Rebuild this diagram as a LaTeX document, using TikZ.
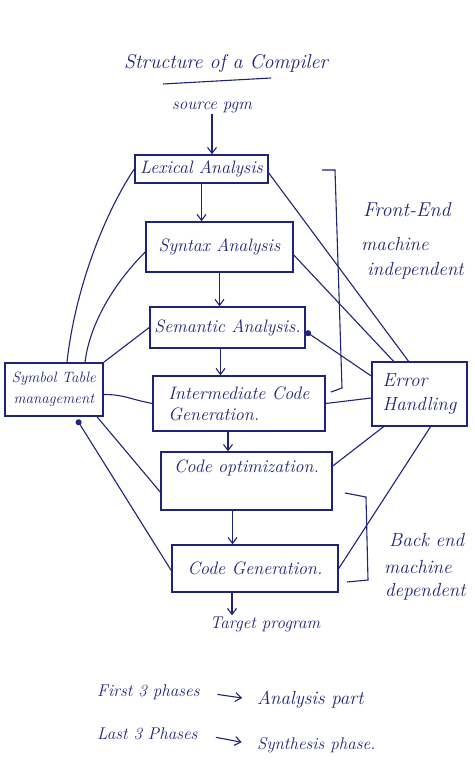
\documentclass[tikz,border=0pt]{standalone}
\usepackage{fontspec}
\usetikzlibrary{arrows.meta,calc}
\definecolor{ink}{RGB}{32,36,120}
\begin{document}
\begin{tikzpicture}[x=1pt,y=-1pt,
  box/.style={draw=ink, line width=1.5pt, text=ink, font=\fontsize{18}{21}\selectfont\itshape, inner sep=2pt, align=center},
  lbl/.style={text=ink, font=\fontsize{17}{20}\selectfont\itshape, inner sep=1pt},
  side/.style={lbl, font=\fontsize{19}{22}\selectfont\itshape, anchor=west},
  link/.style={draw=ink, line width=1.1pt},
  arr/.style={link, -{Straight Barb[length=6pt,width=9pt]}},
  dot/.style={link, {Circle[length=6pt]}-}]
\useasboundingbox[fill=white] (0,0) rectangle (474,779);

% title
\node[lbl, font=\fontsize{20}{24}\selectfont\itshape] (title) at (226,63) {Structure of a Compiler};
\draw[link] (163,84) -- (271,78);
\node[lbl] (src) at (212,107) {source pgm};

% phases
\node[box, minimum width=133pt, minimum height=28pt] (lex) at (201.5,169) {Lexical Analysis};
\node[box, minimum width=147pt, minimum height=50pt] (syn) at (219.5,247) {Syntax Analysis};
\node[box, minimum width=155pt, minimum height=41pt] (sem) at (227.5,327.5) {Semantic Analysis.};
\node[box, minimum width=172pt, minimum height=55pt, align=left] (icg) at (239,403.5) {Intermediate Code\\Generation.};
\node[box, minimum width=171pt, text height=18pt, text depth=36pt] (opt) at (246.5,481) {Code optimization.};
\node[box, minimum width=166pt, minimum height=47pt] (gen) at (255,568.5) {Code Generation.};
\node[lbl] (tgt) at (265,624) {Target program};

% side boxes
\node[box, font=\fontsize{15}{21}\selectfont\itshape, minimum width=98pt, minimum height=53pt] (sym) at (54,389.5) {Symbol Table\\management};
\node[box, font=\fontsize{19}{24}\selectfont\itshape, align=left, minimum width=95pt, minimum height=64pt] (err) at (419.5,394) {Error\\Handling};

% main flow
\draw[arr] (src) -- (src |- lex.north);
\draw[arr] (lex) -- (lex |- syn.north);
\draw[arr] (syn) -- (syn |- sem.north);
\draw[arr] ([xshift=-7pt]sem.south) -- ([xshift=-7pt]sem.south |- icg.north);
\draw[arr] ([xshift=-11pt]icg.south) -- ([xshift=-11pt]icg.south |- opt.north);
\draw[arr] ([xshift=-14pt]opt.south) -- ([xshift=-14pt]opt.south |- gen.north);
\draw[arr] ([xshift=-23pt]gen.south) -- ([xshift=-23pt]gen.south |- tgt.north);

% symbol table links
\draw[link] (lex.west) .. controls +(-30,45) and +(8,-73) .. ([xshift=13pt]sym.north);
\draw[link] ([yshift=-5pt]syn.west) .. controls +(-30,30) and +(5,-40) .. ([xshift=31pt]sym.north);
\draw[link] (sem.west) -- (sym.north east);
\draw[link] (icg.west) .. controls +(-25,-5) and +(20,0) .. ([yshift=-5pt]sym.east);
\draw[dot] ([xshift=23pt,yshift=-3pt]sym.south) -- ([yshift=-2pt]gen.west);
\draw[link] ([xshift=43pt]sym.south) -- ([yshift=-11pt]opt.west);

% error handling links
\draw[link] ([yshift=-4pt]lex.east) -- ([xshift=-11pt]err.north);
\draw[link] ([yshift=-8pt]syn.east) -- ([xshift=-26pt]err.north);
\draw[dot] ([yshift=-4pt]sem.east) -- ([yshift=18pt]err.west);
\draw[link] (icg.east) -- ([yshift=-4pt]err.west);
\draw[link] ([xshift=-36pt]err.south) -- ([yshift=15pt]opt.east);
\draw[link] ([xshift=11pt]err.south) -- (gen.east);

% brackets
\draw[link] (322,170) -- (335,170) -- (342,388) -- (331,392);
\draw[link] (345,493) -- (366,497) -- (368,580) -- (347,582);

% side labels
\node[side, font=\fontsize{20}{23}\selectfont\itshape] (fe1) at (362,210) {Front-End};
\node[side] (fe2) at (360,244) {machine};
\node[side] (fe3) at (366,271) {independent};
\node[side] (be1) at (388,540) {Back end};
\node[side] (be2) at (383,567) {machine};
\node[side] (be3) at (384,592) {dependent};

% notes
\node[lbl, anchor=west] (f1) at (96,692) {First 3 phases};
\node[lbl, anchor=west, font=\fontsize{19}{22}\selectfont\itshape] (f2) at (256,700) {Analysis part};
\draw[arr] ($(f1.east)!0.3!(f2.west)$) -- ($(f1.east)!0.75!(f2.west)$);
\node[lbl, anchor=west] (l1) at (96,734) {Last 3 Phases};
\node[lbl, anchor=west] (l2) at (256,745) {Synthesis phase.};
\draw[arr] ($(l1.east)!0.3!(l2.west)$) -- ($(l1.east)!0.75!(l2.west)$);
\end{tikzpicture}
\end{document}
